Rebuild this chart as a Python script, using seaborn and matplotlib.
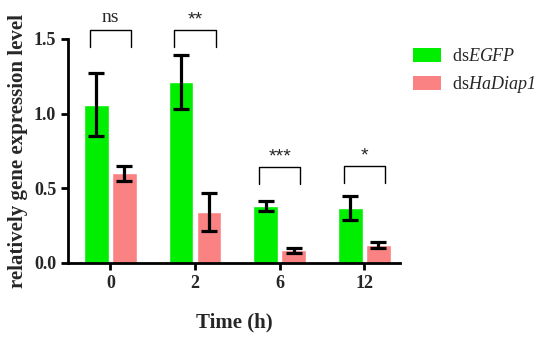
import numpy as np
import pandas as pd
import matplotlib
matplotlib.use("Agg")
import matplotlib.pyplot as plt
import seaborn as sns
from matplotlib.patches import Patch

# data
times = ["0", "2", "6", "12"]
egfp_mean = [1.06, 1.21, 0.38, 0.37]
egfp_err = [0.21, 0.18, 0.035, 0.08]
diap_mean = [0.60, 0.34, 0.085, 0.12]
diap_err = [0.05, 0.125, 0.017, 0.017]
groups = ["dsEGFP", "dsHaDiap1"]
signif = ["ns", "**", "***", "*"]
bracket_top = [1.56, 1.56, 0.645, 0.65]

sns.set_theme(style="ticks")
plt.rcParams["font.family"] = ["Liberation Serif", "DejaVu Serif"]
plt.rcParams["mathtext.fontset"] = "custom"
plt.rcParams["mathtext.rm"] = "Liberation Serif:italic"
plt.rcParams["mathtext.it"] = "Liberation Serif:italic"

df = pd.DataFrame({
    "time": times * 2,
    "value": egfp_mean + diap_mean,
    "group": [groups[0]] * 4 + [groups[1]] * 4,
})
errs = egfp_err + diap_err

colors = ["#00EE00", "#FA8282"]

fig = plt.figure(figsize=(5.5, 3.38), dpi=100)
ax = fig.add_axes([0.1236, 0.222, 0.6036, 0.663])

sns.barplot(data=df, x="time", y="value", hue="group", order=times,
            palette=colors, width=0.66, gap=0.12, ax=ax, errorbar=None,
            saturation=1, legend=False)

# error bars on top of the bars
bars = [p for p in ax.patches if p.get_height() > 0]
for bar, err in zip(bars, errs):
    cx = bar.get_x() + bar.get_width() / 2
    ax.errorbar(cx, bar.get_height(), yerr=err, color="black", elinewidth=2.3,
                capsize=6, capthick=2.3, zorder=5)

# significance brackets
for i, (lab, top) in enumerate(zip(signif, bracket_top)):
    x0, x1 = i - 0.245, i + 0.245
    ax.plot([x0, x0, x1, x1], [top - 0.115, top, top, top - 0.115],
            color="black", lw=1.0, clip_on=False)
    if lab == "ns":
        ax.text(i, top + 0.025, lab, ha="center", va="bottom", fontsize=14,
                clip_on=False)
    else:
        ax.text(i, top + 0.01, lab, ha="center", va="bottom", fontsize=14,
                family=["Liberation Sans", "DejaVu Sans"], clip_on=False)

ax.set_xlim(-0.5, 3.42)
ax.set_ylim(0, 1.5)
ax.set_yticks([0.0, 0.5, 1.0, 1.5])
ax.set_yticklabels(["0.0", "0.5", "1.0", "1.5"])
ax.tick_params(axis="both", labelsize=13, width=2, length=5, color="black")
for lab in ax.get_xticklabels() + ax.get_yticklabels():
    lab.set_fontweight("bold")
ax.set_xlabel("Time (h)", fontsize=15, fontweight="bold", labelpad=15)
ax.set_ylabel("relatively gene expression level", fontsize=15,
              fontweight="bold", labelpad=4)
for s in ["left", "bottom"]:
    ax.spines[s].set_linewidth(2)
    ax.spines[s].set_color("black")
sns.despine(ax=ax)

# legend
handles = [Patch(facecolor=c, edgecolor="none") for c in colors]
labels = ["ds$EGFP$", "ds$HaDiap1$"]
fig.legend(handles, labels, loc="upper left", bbox_to_anchor=(0.735, 0.885),
           frameon=False, fontsize=13, handlelength=1.55, handleheight=0.8,
           handletextpad=0.6, labelspacing=0.5, borderpad=0)

fig.savefig("out.png", dpi=100)
